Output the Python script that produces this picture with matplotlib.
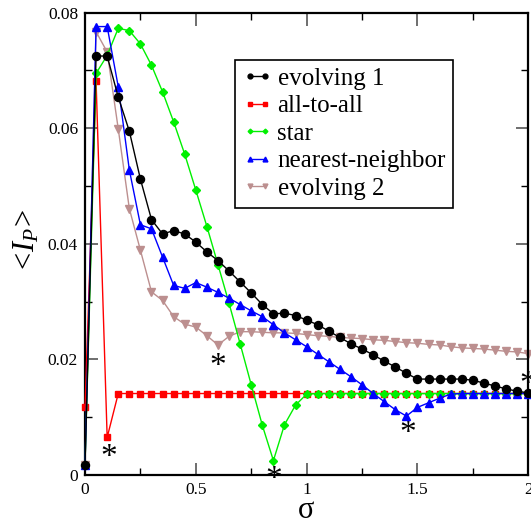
import matplotlib
matplotlib.use("Agg")
import matplotlib.pyplot as plt
from matplotlib.ticker import MultipleLocator, FixedLocator

plt.rcParams['font.family'] = ['Liberation Serif', 'DejaVu Serif']
plt.rcParams['mathtext.fontset'] = 'custom'
plt.rcParams['mathtext.rm'] = 'Liberation Serif'
plt.rcParams['mathtext.it'] = 'Liberation Serif:italic'

sigma = [0.0, 0.05, 0.1, 0.15, 0.2, 0.25, 0.3, 0.35, 0.4, 0.45,
         0.5, 0.55, 0.6, 0.65, 0.7, 0.75, 0.8, 0.85, 0.9, 0.95,
         1.0, 1.05, 1.1, 1.15, 1.2, 1.25, 1.3, 1.35, 1.4, 1.45,
         1.5, 1.55, 1.6, 1.65, 1.7, 1.75, 1.8, 1.85, 1.9, 1.95, 2.0]

evolving1 = [0.0018, 0.0725, 0.0725, 0.0654, 0.0595, 0.0512, 0.0442, 0.0417, 0.0423, 0.0417,
             0.0403, 0.0386, 0.0371, 0.0353, 0.0334, 0.0315, 0.0295, 0.0279, 0.0280, 0.0276,
             0.0268, 0.0260, 0.0249, 0.0238, 0.0227, 0.0218, 0.0208, 0.0197, 0.0187, 0.0176,
             0.0166, 0.0166, 0.0166, 0.0166, 0.0166, 0.0164, 0.0159, 0.0154, 0.0149, 0.0145, 0.0142]

all_to_all = [0.0117, 0.0681, 0.0065, 0.0141, 0.0141, 0.0141, 0.0141, 0.0141, 0.0141, 0.0141,
              0.0141, 0.0141, 0.0141, 0.0141, 0.0141, 0.0141, 0.0141, 0.0141, 0.0141, 0.0141,
              0.0141, 0.0141, 0.0141, 0.0141, 0.0141, 0.0141, 0.0141, 0.0141, 0.0141, 0.0141,
              0.0141, 0.0141, 0.0141, 0.0141, 0.0141, 0.0141, 0.0141, 0.0141, 0.0141, 0.0141, 0.0141]

star = [0.0018, 0.0695, 0.0726, 0.0773, 0.0769, 0.0746, 0.0709, 0.0663, 0.0611, 0.0555,
        0.0493, 0.0430, 0.0364, 0.0297, 0.0227, 0.0156, 0.0086, 0.0025, 0.0087, 0.0121,
        0.0140, 0.0141, 0.0141, 0.0141, 0.0141, 0.0141, 0.0141, 0.0141, 0.0141, 0.0141,
        0.0141, 0.0141, 0.0141, 0.0141, 0.0141, 0.0141, 0.0141, 0.0141, 0.0141, 0.0141, 0.0141]

nearest = [0.0018, 0.0776, 0.0776, 0.0672, 0.0528, 0.0433, 0.0426, 0.0377, 0.0328, 0.0323,
           0.0333, 0.0325, 0.0316, 0.0306, 0.0295, 0.0284, 0.0274, 0.0260, 0.0246, 0.0234,
           0.0222, 0.0209, 0.0196, 0.0183, 0.0170, 0.0156, 0.0141, 0.0127, 0.0113, 0.0102,
           0.0117, 0.0125, 0.0133, 0.0140, 0.0141, 0.0141, 0.0141, 0.0141, 0.0141, 0.0141, 0.0141]

evolving2 = [0.0018, 0.0767, 0.0732, 0.0599, 0.0461, 0.0389, 0.0317, 0.0302, 0.0274, 0.0261,
             0.0256, 0.0241, 0.0225, 0.0240, 0.0248, 0.0248, 0.0247, 0.0246, 0.0246, 0.0245,
             0.0243, 0.0241, 0.0240, 0.0238, 0.0237, 0.0236, 0.0234, 0.0233, 0.0231, 0.0229,
             0.0228, 0.0226, 0.0225, 0.0222, 0.0220, 0.0219, 0.0218, 0.0216, 0.0214, 0.0213, 0.0210]

labels = ["evolving 1", "all-to-all", "star", "nearest-neighbor", "evolving 2"]

# minima markers (asterisks)
min_sigma = [0.105, 0.601, 0.850, 1.454, 1.999]
min_vals = [0.0042, 0.0199, 0.0004, 0.0084, 0.0168]

x_ticks = [0, 0.5, 1, 1.5, 2]
x_ticklabels = ["0", "0.5", "1", "1.5", "2"]
y_ticks = [0, 0.02, 0.04, 0.06, 0.08]
y_ticklabels = ["0", "0.02", "0.04", "0.06", "0.08"]

fig = plt.figure(figsize=(5.31, 5.21), dpi=100)
ax = fig.add_axes([85/531, 1 - 475/521, (528.3 - 85)/531, (475 - 12.7)/521])

series = [
    (evolving1, 'black', 'o', 5.8, 6),
    (all_to_all, '#ff0000', 's', 4.5, 3),
    (star, '#00f000', 'D', 4.0, 4),
    (nearest, '#0000ff', '^', 5.8, 5),
    (evolving2, '#bc8f8f', 'v', 5.8, 2),
]
for (vals, col, mk, ms, z), lab in zip(series, labels):
    ax.plot(sigma, vals, color=col, marker=mk, markersize=ms, lw=1.0,
            markeredgecolor=col, markerfacecolor=col, label=lab, zorder=z,
            clip_on=False)

for sx, sy in zip(min_sigma, min_vals):
    ax.annotate('*', xy=(sx, sy), xytext=(0, -11), textcoords='offset points',
                ha='center', va='baseline', fontsize=24, annotation_clip=False)

ax.set_xlim(0, 2)
ax.set_ylim(0, 0.08)
ax.xaxis.set_major_locator(FixedLocator(x_ticks))
ax.set_xticklabels(x_ticklabels)
ax.yaxis.set_major_locator(FixedLocator(y_ticks))
ax.set_yticklabels(y_ticklabels)
ax.xaxis.set_minor_locator(MultipleLocator(0.25))
ax.yaxis.set_minor_locator(MultipleLocator(0.01))
ax.tick_params(which='both', direction='in', top=True, right=True, labelsize=12.5)
ax.tick_params(which='major', length=9, width=1.2, color='#555555', pad=5)
ax.tick_params(which='minor', length=5, width=1.0, color='black')
for s in ax.spines.values():
    s.set_linewidth(1.6)

leg = ax.legend(loc='upper left', bbox_to_anchor=((235 - 85)/443.3, (475 - 60)/462.3),
                borderaxespad=0, fontsize=18, numpoints=2, handlelength=1.2,
                handletextpad=0.2, labelspacing=0.2, borderpad=0.3,
                markerscale=0.6, fancybox=False, framealpha=1)
leg.get_frame().set_edgecolor('black')
leg.get_frame().set_linewidth(1.2)

fig.text(27/531, 1 - 242/521, r'$<\!I_P\!>$', rotation=90, ha='center', va='center', fontsize=22)
fig.text(306/531, 1 - 510/521, 'σ', ha='center', va='center', fontsize=22)

fig.savefig('out.png', dpi=100)
